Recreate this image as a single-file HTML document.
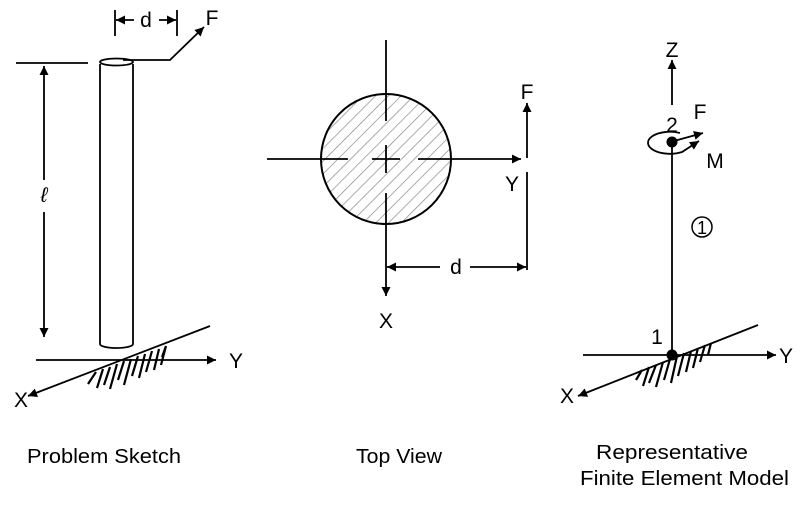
<!DOCTYPE html>
<html><head><meta charset="utf-8"><style>
html,body{margin:0;padding:0;background:#fff}
svg{display:block}
text{font-family:"Liberation Sans",Arial,sans-serif;fill:#000}
</style></head><body>
<svg width="811" height="517" viewBox="0 0 811 517" xmlns="http://www.w3.org/2000/svg">
<defs>
<marker id="a" viewBox="0 0 10 10" refX="10" refY="5" markerWidth="15" markerHeight="9" markerUnits="userSpaceOnUse" orient="auto"><path d="M0,0 L10,5 L0,10 z" fill="#000"/></marker>
<pattern id="h" patternUnits="userSpaceOnUse" width="9" height="9" patternTransform="rotate(45)"><line x1="0" y1="0" x2="0" y2="9" stroke="#888" stroke-width="1.4"/></pattern>
</defs>
<g stroke="#000" stroke-width="1.8" fill="none">
<!-- LEFT PANEL -->
<line x1="16" y1="63" x2="88" y2="63"/>
<path d="M100,64 L100,344 A16.5,4 0 0 0 133,344 L133,64"/>
<ellipse cx="116.5" cy="62" rx="16.5" ry="3.5"/>
<line x1="44" y1="180" x2="44" y2="66" marker-end="url(#a)"/>
<line x1="44" y1="212" x2="44" y2="337" marker-end="url(#a)"/>
<line x1="115" y1="10" x2="115" y2="36"/>
<line x1="177" y1="10" x2="177" y2="36"/>
<line x1="134" y1="20" x2="116" y2="20" marker-end="url(#a)"/>
<line x1="159" y1="20" x2="176" y2="20" marker-end="url(#a)"/>
<path d="M123,60 L170,60 L204,27" marker-end="url(#a)"/>
<line x1="36" y1="360" x2="216" y2="360" marker-end="url(#a)"/>
<line x1="210" y1="326" x2="28" y2="396" marker-end="url(#a)"/>
<g stroke-width="2.2">
<path d="M96,372 L88,384 M103,369 L97,388 M110,367 L104,385 M117,364 L110,389 M124,361 L118,380 M131,359 L124,385 M138,356 L132,376 M145,354 L139,378 M152,351 L146,372 M159,349 L154,370 M166,346 L161,365 M166,346 L162,357"/>
</g>
<!-- MIDDLE PANEL -->
<circle cx="386" cy="159" r="65" fill="url(#h)" stroke-width="2"/>
<line x1="267" y1="159" x2="348" y2="159"/>
<line x1="372" y1="159" x2="400" y2="159"/>
<line x1="418" y1="159" x2="521" y2="159" marker-end="url(#a)"/>
<line x1="386" y1="40" x2="386" y2="121"/>
<line x1="386" y1="145" x2="386" y2="173"/>
<line x1="386" y1="193" x2="386" y2="296" marker-end="url(#a)"/>
<line x1="527" y1="158" x2="527" y2="103" marker-end="url(#a)"/>
<line x1="527" y1="172" x2="527" y2="270"/>
<line x1="440" y1="267" x2="387" y2="267" marker-end="url(#a)"/>
<line x1="470" y1="267" x2="526" y2="267" marker-end="url(#a)"/>
<!-- RIGHT PANEL -->
<line x1="672" y1="105" x2="672" y2="60" marker-end="url(#a)"/>
<line x1="672" y1="142" x2="672" y2="355"/>
<line x1="674" y1="141" x2="703" y2="133" marker-end="url(#a)"/>
<path d="M680,133 A22,11 0 1 0 682,152 L699,141" marker-end="url(#a)"/>
<circle cx="702" cy="227" r="10" stroke-width="1.5"/>
<line x1="583" y1="355" x2="776" y2="355" marker-end="url(#a)"/>
<line x1="758" y1="325" x2="578" y2="396" marker-end="url(#a)"/>
<g stroke-width="2.2">
<path d="M642,370 L636,380 M649,367 L643,386 M656,365 L649,383 M663,362 L656,387 M670,359 L664,380 M677,356 L671,383 M684,353 L678,376 M691,351 L686,372 M698,348 L693,368 M705,345 L700,362 M711,343 L708,355"/>
</g>
</g>
<circle cx="672" cy="142" r="5.5" fill="#000"/>
<circle cx="672" cy="355" r="5.5" fill="#000"/>
<g font-size="21">
<text x="212" y="25" text-anchor="middle">F</text>
<text x="146" y="27" text-anchor="middle">d</text>
<text x="44" y="202" text-anchor="middle" font-style="italic" font-family="Liberation Serif,serif">ℓ</text>
<text x="236" y="368" text-anchor="middle">Y</text>
<text x="21" y="407" text-anchor="middle">X</text>
<text x="527" y="99" text-anchor="middle">F</text>
<text x="512" y="191" text-anchor="middle">Y</text>
<text x="456" y="274" text-anchor="middle">d</text>
<text x="386" y="328" text-anchor="middle">X</text>
<text x="672" y="57" text-anchor="middle">Z</text>
<text x="672" y="132" text-anchor="middle">2</text>
<text x="700" y="119" text-anchor="middle">F</text>
<text x="715" y="168" text-anchor="middle">M</text>
<text x="702" y="234" text-anchor="middle" font-size="18">1</text>
<text x="657" y="344" text-anchor="middle">1</text>
<text x="786" y="363" text-anchor="middle">Y</text>
<text x="567" y="403" text-anchor="middle">X</text>
</g>
<g font-size="20">
<text x="27" y="463" textLength="154" lengthAdjust="spacingAndGlyphs">Problem Sketch</text>
<text x="356" y="463" textLength="86" lengthAdjust="spacingAndGlyphs">Top View</text>
<text x="596" y="459" textLength="152" lengthAdjust="spacingAndGlyphs">Representative</text>
<text x="580" y="485" textLength="209" lengthAdjust="spacingAndGlyphs">Finite Element Model</text>
</g>
</svg>
</body></html>
